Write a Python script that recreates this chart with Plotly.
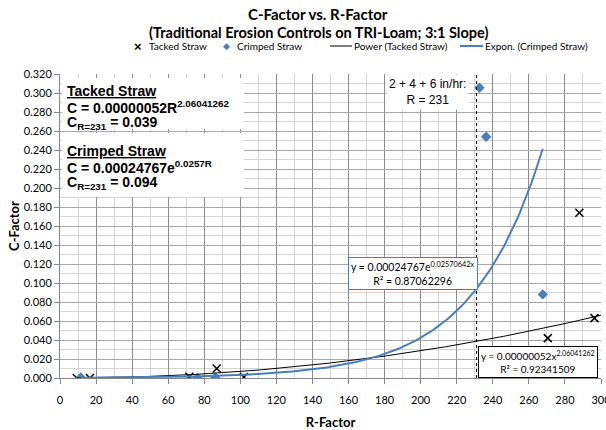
import numpy as np
import plotly.graph_objects as go

# ---- data ----
tacked_r = [9.3, 16.6, 71.7, 86.9, 102.0, 270.5, 288.0, 296.4]
tacked_c = [0.000, 0.000, 0.0014, 0.010, 0.001, 0.042, 0.174, 0.063]
crimped_r = [11.5, 76.2, 86.2, 232.6, 236.3, 267.7]
crimped_c = [0.0005, 0.000, 0.0003, 0.3056, 0.254, 0.088]

# trendline coefficients (as printed on the chart)
pow_a, pow_b = 0.00000052, 2.06041262
exp_a, exp_b = 0.00024767, 0.02570642
r_design = 231

x_ticks = list(range(0, 301, 20))
y_ticks = [round(0.02 * i, 3) for i in range(17)]

BLUE = "#4a7ebb"
CAL = "Lato, 'Open Sans', sans-serif"
ARIAL = "'Liberation Sans', Arial, sans-serif"

# plot-area geometry (pixels) used to place the paper-referenced extras
L, R, T, B = 60, 601, 74, 378
def px(xp):
    return (xp - L) / (R - L)
def py(yp):
    return (B - yp) / (B - T)

pow_x = np.linspace(min(tacked_r), 300, 200)
pow_y = pow_a * pow_x ** pow_b
exp_x = np.linspace(min(crimped_r), max(crimped_r), 200)
exp_y = exp_a * np.exp(exp_b * exp_x)

fig = go.Figure()
fig.add_trace(go.Scatter(x=tacked_r, y=tacked_c, mode="markers", name="Tacked Straw",
                         marker=dict(symbol="x-thin-open", size=8, color="black",
                                     line=dict(color="black", width=1.5))))
fig.add_trace(go.Scatter(x=crimped_r, y=crimped_c, mode="markers", name="Crimped Straw",
                         marker=dict(symbol="diamond", size=8, color=BLUE)))
fig.add_trace(go.Scatter(x=pow_x, y=pow_y, mode="lines", name="Power (Tacked Straw)",
                         line=dict(color="black", width=1)))
fig.add_trace(go.Scatter(x=exp_x, y=exp_y, mode="lines", name="Expon. (Crimped Straw)",
                         line=dict(color=BLUE, width=2)))

fig.add_shape(type="line", x0=r_design, x1=r_design, y0=0, y1=0.32, xref="x", yref="y",
              line=dict(color="black", width=1, dash="dot"))

# white backgrounds of the two left text boxes
for y0p, y1p in [(78, 129), (133, 197)]:
    fig.add_shape(type="rect", xref="paper", yref="paper", x0=px(62), x1=px(244),
                  y0=py(y1p), y1=py(y0p), fillcolor="white", line=dict(width=0),
                  layer="above")

annots = []
def ann(xp, yp, text, size, family=CAL, color="black", xanchor="left", **kw):
    d = dict(x=px(xp), y=py(yp), xref="paper", yref="paper", showarrow=False,
             xanchor=xanchor, yanchor="middle", text=text,
             font=dict(family=family, size=size, color=color))
    d.update(kw)
    annots.append(d)

# title
ann(318, 14, "<b>C-Factor vs. R-Factor</b>", 15, xanchor="center")
ann(318, 33, "<b>(Traditional Erosion Controls on TRI-Loam; 3:1 Slope)</b>", 14.5, xanchor="center")

# manual legend
LY = 46
ann(138, LY, "<b>×</b>", 13, family=ARIAL, xanchor="center")
ann(147, LY, "Tacked Straw", 10)
ann(226, LY, "◆", 9, family=ARIAL, color=BLUE, xanchor="center")
ann(235, LY, "Crimped Straw", 10)
ann(352, LY, "Power (Tacked Straw)", 10)
ann(483, LY, "Expon. (Crimped Straw)", 10)
fig.add_shape(type="line", xref="paper", yref="paper", x0=px(330), x1=px(352), y0=py(LY), y1=py(LY),
              line=dict(color="black", width=1))
fig.add_shape(type="line", xref="paper", yref="paper", x0=px(460), x1=px(483), y0=py(LY), y1=py(LY),
              line=dict(color=BLUE, width=2))

# left text box lines
ann(65, 91, "<b><u>Tacked Straw</u></b>", 14, family=ARIAL)
ann(65, 107, "<b>C = 0.00000052R<sup>2.06041262</sup></b>", 14, family=ARIAL)
ann(65, 123, "<b>C<sub>R=231</sub> = 0.039</b>", 14, family=ARIAL)
ann(65, 151, "<b><u>Crimped Straw</u></b>", 14, family=ARIAL)
ann(65, 167, "<b>C = 0.00024767e<sup>0.0257R</sup></b>", 14, family=ARIAL)
ann(65, 183, "<b>C<sub>R=231</sub> = 0.094</b>", 14, family=ARIAL)

# boxes in data coordinates
annots.append(dict(x=204, y=0.3015, xref="x", yref="y", showarrow=False, bgcolor="white",
                   borderpad=2, font=dict(family=ARIAL, size=12, color="black"),
                   text="2 + 4 + 6 in/hr:<br>R = 231"))
annots.append(dict(x=195.5, y=0.1095, xref="x", yref="y", showarrow=False, bgcolor="white",
                   bordercolor=BLUE, borderwidth=1, borderpad=2,
                   font=dict(family=CAL, size=10.5, color="black"),
                   text="y = 0.00024767e<sup>0.02570642x</sup><br>R² = 0.87062296"))
annots.append(dict(x=298.4, y=0.0165, xref="x", yref="y", xanchor="right", showarrow=False,
                   bgcolor="white", bordercolor="black", borderwidth=1, borderpad=2,
                   font=dict(family=CAL, size=10, color="black"),
                   text="y = 0.00000052x<sup>2.06041262</sup><br>R² = 0.92341509"))

fig.update_layout(
    width=606, height=430,
    margin=dict(l=L, r=606 - R, t=T, b=430 - B),
    paper_bgcolor="white", plot_bgcolor="white",
    font=dict(family=CAL, size=11, color="black"),
    showlegend=False,
    annotations=annots,
    xaxis=dict(range=[0, 300], tickvals=x_ticks, ticks="outside", ticklen=5, tickcolor="#868686",
               showline=True, linecolor="#868686", showgrid=True, gridcolor="#8c8c8c", gridwidth=1,
               minor=dict(dtick=10, showgrid=True, gridcolor="#d4d4d4", gridwidth=1),
               zeroline=False, tickfont=dict(family=CAL, size=11), automargin=False,
               ticklabeloverflow="allow", ticklabelstandoff=7,
               title=dict(text="<b>R-Factor</b>", font=dict(family=CAL, size=13), standoff=12)),
    yaxis=dict(range=[0, 0.32], tickvals=y_ticks, tickformat=".3f", ticks="outside", ticklen=5,
               tickcolor="#868686", showline=True, linecolor="#868686", showgrid=True,
               gridcolor="#a8a8a8", gridwidth=1,
               minor=dict(dtick=0.01, showgrid=True, gridcolor="#d4d4d4", gridwidth=1),
               zeroline=False, tickfont=dict(family=CAL, size=11), automargin=False,
               title=dict(text="<b>C-Factor</b>", font=dict(family=CAL, size=13), standoff=1)),
)

fig.write_html("out.html", post_script="document.body.style.margin='0';",
               config={"displayModeBar": False})
